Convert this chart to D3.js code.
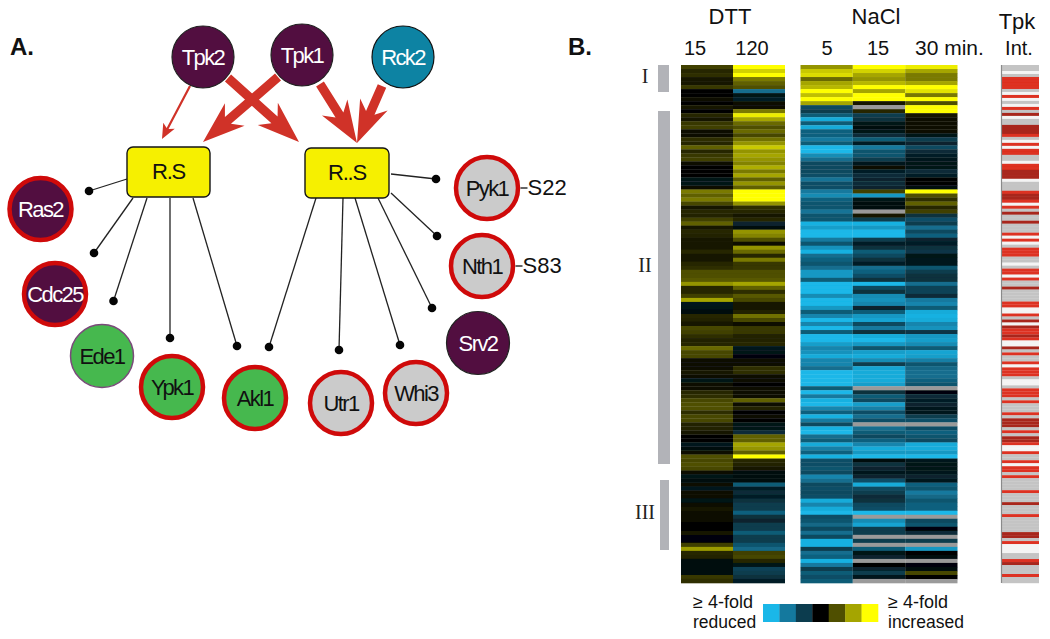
<!DOCTYPE html>
<html><head><meta charset="utf-8">
<script src="https://cdn.jsdelivr.net/npm/d3@7"></script>
<style>html,body{margin:0;background:#fff}svg{display:block;font-family:"Liberation Sans",Arial,sans-serif}</style>
</head><body><svg id="c" width="1050" height="639"></svg>
<script>
// ---------- heat-map values (log2-like, -3..3; null = no data)
const dtt15=[.8,.5,.6,.3,.3,.7,0,0,.2,0,.3,0,.5,.3,.7,.8,.2,.2,.6,.5,1.2,
.5,.7,.8,.1,0,0,0,-.3,-.3,.1,1.5,1.2,1.5,.9,.3,.5,.4,.8,1.2,.3,.5,.4,
.3,.3,.3,.5,.3,.3,.5,.6,1,1,1.1,1.8,.5,.5,.8,2,-.4,-.3,-.2,.5,.4,.3,
.9,.8,.6,.4,.5,1.3,.9,.9,.1,.1,.1,.3,.1,-.3,.1,.2,.5,.6,.9,1,1,.6,
.9,.9,.4,.4,.3,0,0,-.4,-.2,.1,1,.9,1,.9,.1,-.3,-.2,.1,-.4,.2,.1,-.3,
.1,.3,.2,.1,.1,0,0,.3,-.1,-.1,.8,1.9,.5,.4,-.2,-.2,-.2,-.2,.7,.6];
const dtt120=[3,2.5,3,1.5,1.2,1,-1.8,-.3,-.5,.1,.1,1.5,2.8,2,1.3,1,1.3,.9,1.4,1.8,2.4,
1.8,2,1.8,1.6,2.1,1.5,2,1.2,1.8,1.2,3,3,3,1.8,.6,.5,.3,.5,-.6,-.2,1.8,1.6,
1,.2,1.8,1.3,.5,1.5,.7,.7,1,1,1.1,2,1.2,.6,1.1,.9,.3,.3,.4,1.4,.9,.1,
.7,.7,.4,.4,.5,-.4,-.3,-.1,.1,.1,.6,.6,.1,.1,0,.1,.1,.2,1.2,.2,.4,0,
.1,0,-.3,-.3,-.7,1.2,1.2,2,1.8,1.2,3,.5,.4,.3,-.2,-.2,-.2,-1.5,-.5,-.7,-.5,-.8,
-1,-1,-1.6,-.8,-.6,-1,-1,-1.5,-1,-1,-1.4,-1.7,.8,.9,.5,-.3,-1.1,-1,-.8,-.5];
const nacl5=[1.8,2.4,2.6,1.3,2,2.2,3,2.3,3,2,-1.2,-1,-1.5,-2.8,-1.5,-2.8,-1.6,-1.6,-2,-1.5,-3,
-3,-2.3,-1.8,-1.2,-1.2,-1.2,-1.3,-1.9,-1.3,-1.3,-2,-2.3,-1.6,-1.4,-1.4,-1.9,-1.4,-1.4,-2.9,-2.6,-3,-3,
-2,-1.4,-2.4,-2.9,-1.8,-1.6,-1.4,-1.8,-2.5,-2.5,-1.5,-3,-3,-3,-2.3,-3,-3,-2.5,-1.5,-2.2,-3,-2.2,
-3,-1.5,-3,-3,-2.6,-2.2,-2.4,-2.8,-2.2,-2.2,-1.8,-3,-3,-3,-3,-1.5,-3,-2,-2.9,-3,-2.2,-1.6,
-2.9,-2,-1.2,-2.9,-3,-1.8,-1.5,-2.8,-2.1,-1.6,-2.9,-1.3,-1.3,-1.4,-1.2,-2.2,-1.8,-1.2,-1.3,-1.2,-1.3,-2.8,
-2.2,-2.8,-3,-1.3,-1.4,-1.7,-1.2,-1.8,-1.2,-2.9,-2.9,-1,-1.8,-1.6,-2.9,-2,-1,-1.5,-1.3,-1.5];
const nacl15=[3,2.5,2,1.8,2.2,3,2,3,3,.3,null,.5,-1,-.8,-.3,-.2,-.3,-.7,-1.5,-.5,-2,
-1.4,-1.4,-1,-.4,.1,-.5,-.7,-.6,-.7,-.6,.8,-2.5,-.3,-.2,-.2,null,.3,-1,-2.9,-2.5,-3,-3,
-1,-.5,-.8,-1.5,-1.2,-.8,-.5,-1.8,-1.6,-1.3,-.8,-3,-1.2,-.8,-2.3,-2.4,-2.2,-.6,-1.5,-2.5,-2.7,-1.2,
-2,-.8,-2.8,-3,-2.5,-1.4,-2.6,-2.8,-2.3,-1,-2.7,-2.8,-2.8,-2.8,-2.6,null,-.8,-1.5,-1.2,-2.6,-2.1,-1.3,
-1.8,-1.3,null,-1.8,-1.5,-1.2,-1.6,-2.2,-2.8,-2.5,-3,-.2,-.8,-.6,-.4,-.6,-1.3,-2.8,-1.2,-1,-.7,-.8,
-1.2,-1.3,-3,null,-2.3,-2.7,-1,-1,null,-1,null,-1.5,-.3,-.6,null,0,-.6,-1,-.4,null];
const nacl30=[2.8,2,1.5,1.5,2,3,2.7,1.5,3,1,3,3,.3,.2,.1,.2,.2,-.3,-1,-.6,-1.2,
-.7,-.5,-.4,-.3,-.3,-.7,-.5,0,0,-.2,3,1,.6,1.2,.5,.8,-.8,-1.3,-1,-1.8,-1.2,-1.6,
-.6,-.5,-.8,-.9,-.3,-.4,-.4,-1.4,-1,-.8,-.8,-1.8,-1.1,-1.1,-.7,-2,-2.2,-1.5,-2.8,-2.9,-2.8,-2.2,
-2.4,-.9,-2.5,-2.6,-2.3,-1.5,-2.7,-2.6,-2.1,-1.4,-1.7,-1.8,-1.8,-1.6,-1.4,null,-.1,-.7,-.5,-.6,-.4,-.4,
-1,-1.3,null,-1.3,-1.6,-1.4,-1.2,-2.8,-2.8,-2.5,-3,-.4,-.3,-.3,-.4,-.6,-.4,-1.6,-1.4,-2,-1.7,-1.4,
-1.6,-1.6,-3,null,-1.2,-1.4,-.1,-.7,null,-1,null,-2.5,0,-.2,null,-.1,-.2,.9,0,null];
// Tpk interaction stripes: 0 none, 1 untested, 2 interaction, 3 strong interaction
const tpkInt=[1,1,0,1,2,2,2,2,1,0,2,0,1,0,2,1,3,0,1,1,3,3,3,2,1,0,2,0,2,2,1,1,0,2,2,3,3,3,0,1,1,1,2,3,3,2,0,2,1,3,1,1,
3,1,1,1,2,0,2,0,1,2,2,2,1,1,0,1,2,2,0,2,1,1,3,1,1,1,1,2,2,0,0,2,1,3,0,3,2,2,3,2,0,0,3,1,2,1,1,2,0,2,2,2,1,0,0,1,2,2,2,1,2,1,1,1,2,1,3,3,3,
1,2,1,3,3,2,0,0,2,1,1,2,0,2,2,1,2,1,1,1,1,2,1,1,1,
3,1,1,1,2,1,1,1,1,1,3,3,1,2,0,0,0,1,1,2,3,1,1,1,2,1,1];
const legendLevels=[-3,-2,-1,0,1,2,3];
const dttTimes=["15","120"], naclTimes=["5","15","30"];
const dttCols=[dtt15,dtt120], naclCols=[nacl5,nacl15,nacl30];
// ---------- network content
const nodeNames=["Tpk2","Tpk1","Rck2","Ras2","Cdc25","Ede1","Ypk1","Akl1","Utr1","Whi3","Srv2","Nth1","Pyk1"];
const nodeKinds=["kinase","kinase","rck","tf","tf","green0","green","green","grey","grey","tf2","grey","grey"];
const sites=[["Pyk1","S22"],["Nth1","S83"]];

// ---------- layout (page geometry, not data)
const nodePos={Tpk2:[203,57,31],Tpk1:[302,55,31],Rck2:[403,57,31],Ras2:[40.5,209,31],Cdc25:[55,294,31],Ede1:[102,356,31.5],Ypk1:[172,387,31],Akl1:[255,398,31],Utr1:[341,403,31],Whi3:[416,393,31],Srv2:[478,343,31.5],Nth1:[482,266,31],Pyk1:[487,188,31]};
const boxes=[{x:127,y:147,w:83,h:50},{x:305,y:148,w:84,h:50}];
const leaders=[[127,179,89,191],[133,198,94,253],[147,198,113.5,301],[170,198,170,338],[193,198,237,346],
[316,198,269,347],[343,198,339,350],[355,198,400,345],[378,198,432,308],[391,193,437,236],[391,174,436,179]];
const arrows=[{f:[190,86],t:[162,139],thin:1},{f:[228,78],t:[299,142]},{f:[278,77],t:[203,142]},{f:[320,84],t:[357,143]},{f:[382,86],t:[357,143]}];
const kindStyle={kinase:["#520e40","#222",1.2,"#fff"],rck:["#0d83a3","#111",1.2,"#fff"],tf:["#520e40","#cf0a0a",4.5,"#fff"],tf2:["#520e40","#222",1.2,"#fff"],green0:["#46b84e","#7a4a7a",1.5,"#111"],green:["#46b84e","#cf0a0a",4.5,"#111"],grey:["#cbcbcb","#cf0a0a",4.5,"#111"]};

const svg=d3.select("#c");
const defs=svg.append("defs");
defs.append("filter").attr("id","soft").attr("x","-2%").attr("y","-2%").attr("width","104%").attr("height","104%")
  .append("feGaussianBlur").attr("stdDeviation","0.4 0.7");

const color=d3.scaleLinear().domain(legendLevels)
  .range(["#1ab7e8","#14799e","#0c3c4e","#000000","#4f4f00","#a5a500","#ffff00"]).clamp(true);
const nRows=dtt15.length;
const y=d3.scaleBand().domain(d3.range(nRows)).range([65,583]);
const xD=d3.scaleBand().domain(dttTimes).range([681,785]);
const xN=d3.scaleBand().domain(naclTimes).range([800.5,957.5]);
const heat=svg.append("g").attr("filter","url(#soft)");
function drawCols(times,cols,x){
  times.forEach((t,i)=>{
    heat.append("g").selectAll("rect").data(cols[i]).join("rect")
      .attr("x",x(t)).attr("width",x.bandwidth())
      .attr("y",(d,r)=>y(r)).attr("height",y.bandwidth()+.3)
      .attr("fill",d=>d===null?"#9a9a9a":color(d));
  });
}
drawCols(dttTimes,dttCols,xD);
drawCols(naclTimes,naclCols,xN);

// Tpk strip
const yT=d3.scaleBand().domain(d3.range(tpkInt.length)).range([65,583]);
const tpkColor=d3.scaleOrdinal().domain([0,1,2,3]).range(["#f4f4f4","#c4c4c4","#dd3020","#a8281c"]);
heat.append("g").selectAll("rect").data(tpkInt).join("rect")
  .attr("x",1002).attr("width",37).attr("y",(d,i)=>yT(i)).attr("height",yT.bandwidth()+.2)
  .attr("fill",d=>tpkColor(d));
svg.append("line").attr("x1",1001.5).attr("x2",1001.5).attr("y1",65).attr("y2",583).attr("stroke","#8a8a8a").attr("stroke-width",1.2);

// cluster bars
const clusters=[["I",645,83,658,92,669,65],["II",645,272,658,464,670,111],["III",645,519,660,550,669,480]];
clusters.forEach(c=>{
  svg.append("rect").attr("x",c[3]).attr("y",c[6]).attr("width",c[5]-c[3]).attr("height",c[4]-c[6]).attr("fill","#b2b3b8");
  svg.append("text").attr("x",c[1]).attr("y",c[2]).attr("text-anchor","middle").attr("font-family","Liberation Serif").attr("font-size",20).attr("fill","#222").text(c[0]);
});

// headings
function label(t,x0,y0,size,anchor,extra){
  const e=svg.append("text").attr("x",x0).attr("y",y0).attr("font-size",size).attr("fill","#111").attr("text-anchor",anchor||"middle").text(t);
  if(extra)extra(e); return e;
}
label("DTT",730,24,22);label("NaCl",876,24,22);
label("Tpk",1017,29,22);label("Int.",1019,55,20);
label("15",695,55,20);label("120",752,55,20);label("5",827,55,20);label("15",878,55,20);
label("30 min.",915,55,21,"start");
label("A.",10,55,24,"start",e=>e.attr("font-weight","bold"));
label("B.",568,55,24,"start",e=>e.attr("font-weight","bold"));

// legend
const xL=d3.scaleBand().domain(legendLevels).range([763,878]);
svg.append("g").selectAll("rect").data(legendLevels).join("rect")
  .attr("x",d=>xL(d)).attr("width",xL.bandwidth()+.3).attr("y",604).attr("height",18).attr("fill",d=>color(d));
label("≥ 4-fold",693,608,18,"start");
label("reduced",693,628,17.5,"start");
label("≥ 4-fold",888,608,18,"start");
label("increased",888,628,17.5,"start");

// leaders
const net=svg.append("g");
net.append("g").selectAll("line").data(leaders).join("line")
  .attr("x1",d=>d[0]).attr("y1",d=>d[1]).attr("x2",d=>d[2]).attr("y2",d=>d[3])
  .attr("stroke","#222").attr("stroke-width",1.3);
net.append("g").selectAll("circle").data(leaders).join("circle")
  .attr("cx",d=>d[2]).attr("cy",d=>d[3]).attr("r",4.3).attr("fill","#050505");

// arrows
function arrowPath(a){
  const dx=a.t[0]-a.f[0],dy=a.t[1]-a.f[1],L=Math.hypot(dx,dy),u=[dx/L,dy/L],n=[-u[1],u[0]];
  const s=a.thin?{hw:1.1,len:15,wing:6.5,notch:12}:{hw:4.6,len:42,wing:15,notch:33};
  const P=(al,pe)=>[a.f[0]+u[0]*al+n[0]*pe,a.f[1]+u[1]*al+n[1]*pe];
  return d3.line()([P(0,s.hw),P(L-s.notch,s.hw),P(L-s.len,s.wing),P(L,0),P(L-s.len,-s.wing),P(L-s.notch,-s.hw),P(0,-s.hw)])+"Z";
}
net.append("g").selectAll("path").data(arrows).join("path").attr("d",arrowPath).attr("fill","#d03228");

// boxes
const bs=net.append("g").selectAll("g").data(boxes).join("g");
bs.append("rect").attr("x",d=>d.x).attr("y",d=>d.y).attr("width",d=>d.w).attr("height",d=>d.h).attr("rx",6)
  .attr("fill","#f6f000").attr("stroke","#151515").attr("stroke-width",1.4);
bs.append("text").attr("x",d=>d.x+d.w/2).attr("y",d=>d.y+32).attr("text-anchor","middle").attr("font-size",22).attr("letter-spacing",-1.2).attr("fill","#111")
  .text((d,i)=>i?"R..S":"R.S");

// nodes
const ng=net.append("g").selectAll("g").data(nodeNames).join("g").attr("transform",d=>`translate(${nodePos[d][0]},${nodePos[d][1]})`);
ng.append("circle").attr("r",d=>nodePos[d][2])
  .attr("fill",(d,i)=>kindStyle[nodeKinds[i]][0]).attr("stroke",(d,i)=>kindStyle[nodeKinds[i]][1]).attr("stroke-width",(d,i)=>kindStyle[nodeKinds[i]][2]);
ng.append("text").attr("text-anchor","middle").attr("y",8).attr("font-size",22).attr("letter-spacing",-1.6)
  .attr("fill",(d,i)=>kindStyle[nodeKinds[i]][3]).text(d=>d);

// phosphosites
sites.forEach(s=>{
  const p=nodePos[s[0]],xs=p[0]+p[2]+2.5;
  net.append("line").attr("x1",xs).attr("x2",xs+7).attr("y1",p[1]).attr("y2",p[1]).attr("stroke","#111").attr("stroke-width",1.3);
  net.append("text").attr("x",xs+7).attr("y",p[1]+7).attr("font-size",22).attr("fill","#111").text(s[1]);
});
</script></body></html>
